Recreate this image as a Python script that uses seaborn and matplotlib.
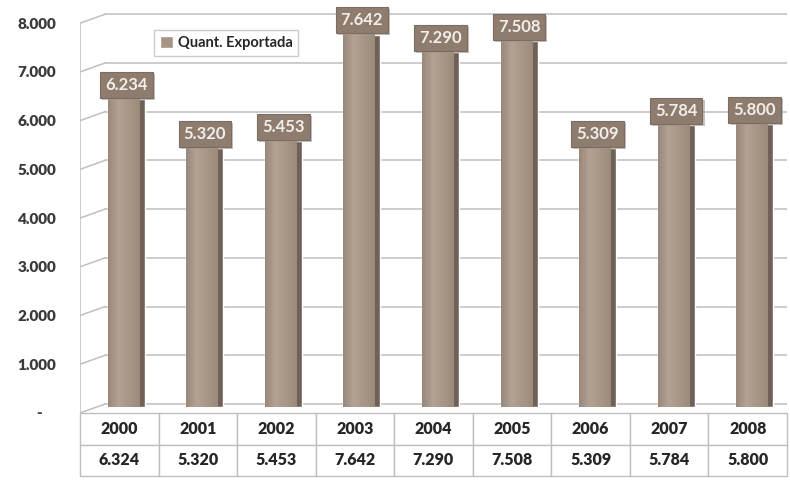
import numpy as np
import pandas as pd
import matplotlib.pyplot as plt
import seaborn as sns
from matplotlib.colors import LinearSegmentedColormap
from matplotlib.patches import Patch
from matplotlib.transforms import ScaledTranslation
import matplotlib.patheffects as pe

# data ------------------------------------------------------------
anos = ['2000', '2001', '2002', '2003', '2004', '2005', '2006', '2007', '2008']
quant = [6324, 5320, 5453, 7642, 7290, 7508, 5309, 5784, 5800]
rotulos = ['6.234', '5.320', '5.453', '7.642', '7.290', '7.508', '5.309', '5.784', '5.800']
valores_tabela = ['6.324', '5.320', '5.453', '7.642', '7.290', '7.508', '5.309', '5.784', '5.800']
yticks = [0, 1000, 2000, 3000, 4000, 5000, 6000, 7000, 8000]
ytick_labels = ['-    ', '1.000', '2.000', '3.000', '4.000', '5.000', '6.000', '7.000', '8.000']
serie = 'Quant. Exportada'

# style -----------------------------------------------------------
sns.set_theme(style='white')
plt.rcParams['font.family'] = ['Lato', 'DejaVu Sans']

grid_col = '#BFBFBF'
side_col = '#6F6157'
label_col = '#8E7D6E'
cmap = LinearSegmentedColormap.from_list('taupe', ['#9A887A', '#B3A395', '#A89686', '#9C8A7B'])

df = pd.DataFrame({'Ano': anos, 'Quant': quant})

fig = plt.figure(figsize=(7.9, 4.83), dpi=100)
ax = fig.add_axes([80 / 790, 70 / 483, 707 / 790, 401 / 483])

sns.barplot(data=df, x='Ano', y='Quant', color=side_col, width=0.47,
            saturation=1, ax=ax, zorder=3)

# 3d look: bars sit a little behind the front edge
bar_tr = ax.transData + ScaledTranslation(7 / 100, 6 / 100, fig.dpi_scale_trans)
grad = np.linspace(0, 1, 64).reshape(1, -1)
for p in ax.patches:
    p.set_transform(bar_tr)
    x0, w, h = p.get_x(), p.get_width(), p.get_height()
    im = ax.imshow(grad, extent=[x0, x0 + w * 0.86, 0, h], aspect='auto',
                   cmap=cmap, zorder=3.5)
    im.set_transform(bar_tr)

ax.set_xlim(-0.5, 8.5)
ax.set_ylim(0, 8230)

# back-wall gridlines with a small perspective slant at the left
dx, dy = 0.32, 185
for v in yticks:
    ax.plot([-0.5, -0.5 + dx], [v, v + dy], color=grid_col, lw=1.1, zorder=1)
    ax.plot([-0.5 + dx, 8.5], [v + dy, v + dy], color=grid_col, lw=1.1, zorder=1)
ax.plot([-0.5, -0.5], [0, 8000], color=grid_col, lw=1.1, zorder=1)

# data labels
for i, (v, t) in enumerate(zip(quant, rotulos)):
    txt = ax.annotate(t, xy=(i, v), xycoords=bar_tr, xytext=(0, 4.5),
                      textcoords='offset points', ha='center', va='bottom',
                      fontsize=12, fontweight='bold', color='#F2EEEA', zorder=6,
                      bbox=dict(boxstyle='square,pad=0.3', fc=label_col, ec='#7C6C5F', lw=0.8))
    txt.get_bbox_patch().set_path_effects(
        [pe.SimplePatchShadow(offset=(1.5, -1.5), shadow_rgbFace='#9A9A9A', alpha=0.6), pe.Normal()])

# axes
sns.despine(ax=ax, left=True, bottom=True)
ax.set_yticks(yticks)
ax.set_yticklabels(ytick_labels, fontsize=11, fontweight='heavy', color='#3A3A3A')
ax.tick_params(axis='y', length=0, pad=17)
ax.set_xticks([])
ax.set_xlabel('')
ax.set_ylabel('')

# data table under the chart
tab = ax.table(cellText=[anos, valores_tabela], cellLoc='center',
               bbox=[0, -63 / 401, 1, 63 / 401])
tab.auto_set_font_size(False)
for cell in tab.get_celld().values():
    cell.set_edgecolor(grid_col)
    cell.set_linewidth(1)
    cell.get_text().set_fontsize(11.5)
    cell.get_text().set_fontweight('heavy')
    cell.get_text().set_color('#262626')

leg = ax.legend(handles=[Patch(facecolor='#A69584', label=serie)],
                loc='upper left', bbox_to_anchor=(0.095, 0.973),
                frameon=True, fancybox=False, edgecolor=grid_col,
                prop={'size': 10.5, 'weight': 'bold'},
                handlelength=0.9, handleheight=0.9, handletextpad=0.3,
                borderpad=0.4)
leg.get_frame().set_linewidth(1)
leg.set_zorder(7)

plt.savefig('out.png', dpi=100)
